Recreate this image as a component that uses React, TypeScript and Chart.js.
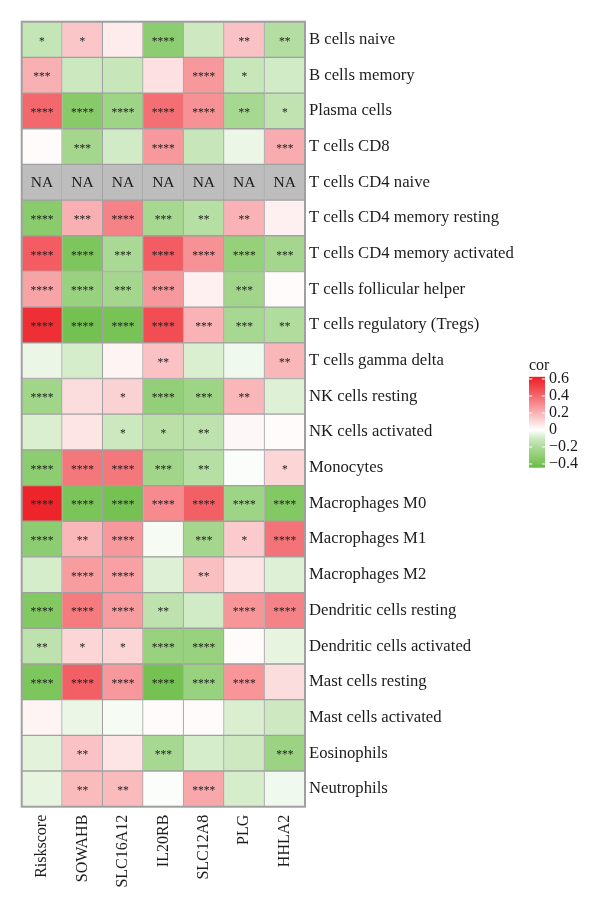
import { useEffect, useRef } from "react";
import { Chart, registerables } from "chart.js";

Chart.register(...registerables);

const genes = ["Riskscore", "SOWAHB", "SLC16A12", "IL20RB", "SLC12A8", "PLG", "HHLA2"];

const cellTypes = [
  "B cells naive",
  "B cells memory",
  "Plasma cells",
  "T cells CD8",
  "T cells CD4 naive",
  "T cells CD4 memory resting",
  "T cells CD4 memory activated",
  "T cells follicular helper",
  "T cells regulatory (Tregs)",
  "T cells gamma delta",
  "NK cells resting",
  "NK cells activated",
  "Monocytes",
  "Macrophages M0",
  "Macrophages M1",
  "Macrophages M2",
  "Dendritic cells resting",
  "Dendritic cells activated",
  "Mast cells resting",
  "Mast cells activated",
  "Eosinophils",
  "Neutrophils",
];

// one row per cell type, one entry per gene; null is NA
const cor: (number | null)[][] = [
  [-0.13, 0.15, 0.05, -0.31, -0.1, 0.16, -0.18],
  [0.21, -0.11, -0.12, 0.08, 0.27, -0.12, -0.09],
  [0.4, -0.33, -0.25, 0.38, 0.29, -0.22, -0.14],
  [0.01, -0.23, -0.09, 0.27, -0.12, -0.03, 0.22],
  [null, null, null, null, null, null, null],
  [-0.32, 0.21, 0.33, -0.22, -0.17, 0.2, 0.04],
  [0.43, -0.37, -0.21, 0.43, 0.29, -0.28, -0.23],
  [0.24, -0.27, -0.23, 0.27, 0.04, -0.24, 0.01],
  [0.55, -0.41, -0.39, 0.47, 0.2, -0.22, -0.19],
  [-0.03, -0.08, 0.03, 0.16, -0.07, -0.02, 0.19],
  [-0.24, 0.09, 0.12, -0.29, -0.25, 0.19, -0.06],
  [-0.07, 0.07, -0.11, -0.16, -0.15, 0.02, 0.01],
  [-0.31, 0.36, 0.36, -0.24, -0.17, -0.005, 0.11],
  [0.58, -0.38, -0.4, 0.31, 0.42, -0.25, -0.35],
  [-0.31, 0.19, 0.27, -0.01, -0.23, 0.14, 0.37],
  [-0.08, 0.26, 0.25, -0.06, 0.17, 0.07, -0.06],
  [-0.35, 0.35, 0.26, -0.15, -0.09, 0.28, 0.33],
  [-0.15, 0.11, 0.11, -0.27, -0.27, 0.01, -0.04],
  [-0.37, 0.42, 0.27, -0.4, -0.27, 0.28, 0.09],
  [0.03, -0.03, -0.01, 0.01, 0.01, -0.07, -0.1],
  [-0.05, 0.16, 0.07, -0.22, -0.08, -0.1, -0.26],
  [-0.04, 0.18, 0.18, -0.005, 0.23, -0.08, -0.02],
];

const stars = [
  ["*", "*", "", "****", "", "**", "**"],
  ["***", "", "", "", "****", "*", ""],
  ["****", "****", "****", "****", "****", "**", "*"],
  ["", "***", "", "****", "", "", "***"],
  ["NA", "NA", "NA", "NA", "NA", "NA", "NA"],
  ["****", "***", "****", "***", "**", "**", ""],
  ["****", "****", "***", "****", "****", "****", "***"],
  ["****", "****", "***", "****", "", "***", ""],
  ["****", "****", "****", "****", "***", "***", "**"],
  ["", "", "", "**", "", "", "**"],
  ["****", "", "*", "****", "***", "**", ""],
  ["", "", "*", "*", "**", "", ""],
  ["****", "****", "****", "***", "**", "", "*"],
  ["****", "****", "****", "****", "****", "****", "****"],
  ["****", "**", "****", "", "***", "*", "****"],
  ["", "****", "****", "", "**", "", ""],
  ["****", "****", "****", "**", "", "****", "****"],
  ["**", "*", "*", "****", "****", "", ""],
  ["****", "****", "****", "****", "****", "****", ""],
  ["", "", "", "", "", "", ""],
  ["", "**", "", "***", "", "", "***"],
  ["", "**", "**", "", "****", "", ""],
];

const legendTicks = [0.6, 0.4, 0.2, 0, -0.2, -0.4];
const legendMin = -0.444;
const legendMax = 0.627;

const serif = '"Liberation Serif", serif';
const gridColor = "#a0a0a0";
const naColor = "#bdbdbd";
const textColor = "#1c1c1c";

function corColor(value: number | null) {
  if (value === null) {
    return naColor;
  }
  const end = value > 0 ? [237, 28, 36] : [106, 189, 69];
  const t = value > 0 ? Math.min(1, value / 0.6) : Math.min(1, (-value / 0.444) ** 0.75);
  const [r, g, b] = end.map((c) => Math.round(255 + (c - 255) * t));
  return `rgb(${r}, ${g}, ${b})`;
}

// prints the stars and NA in the middle of each cell
const cellTextPlugin = {
  id: "cellText",
  afterDatasetsDraw(chart: Chart) {
    const { ctx, chartArea } = chart;
    ctx.save();
    ctx.strokeStyle = gridColor;
    ctx.lineWidth = 2;
    ctx.strokeRect(
      chartArea.left,
      chartArea.top,
      chartArea.right - chartArea.left,
      chartArea.bottom - chartArea.top
    );
    ctx.textAlign = "center";
    ctx.textBaseline = "middle";
    genes.forEach((_, col) => {
      chart.getDatasetMeta(col).data.forEach((bar, row) => {
        const label = stars[row][col];
        if (!label) {
          return;
        }
        const { x, y } = bar.getCenterPoint();
        if (label === "NA") {
          ctx.font = `15.5px ${serif}`;
          ctx.fillStyle = textColor;
          ctx.fillText(label, x, y + 0.5);
        } else {
          ctx.font = `11.5px ${serif}`;
          ctx.fillStyle = "#222222";
          ctx.fillText(label, x, y + 2);
        }
      });
    });
    ctx.restore();
  },
};

function Heatmap() {
  const canvasRef = useRef<HTMLCanvasElement | null>(null);

  useEffect(() => {
    const canvas = canvasRef.current;
    if (!canvas) {
      return;
    }

    const chart = new Chart(canvas, {
      type: "bar",
      data: {
        labels: cellTypes,
        datasets: genes.map((gene, col) => ({
          label: gene,
          data: cellTypes.map(() => 1),
          backgroundColor: cor.map((row) => corColor(row[col])),
          borderColor: gridColor,
          borderWidth: 1,
          barPercentage: 1,
          categoryPercentage: 1,
        })),
      },
      options: {
        indexAxis: "y",
        responsive: false,
        animation: false,
        layout: {
          padding: { left: 21.7, top: 21.7, right: 0, bottom: 0 },
        },
        plugins: {
          legend: { display: false },
          tooltip: { enabled: false },
        },
        scales: {
          x: {
            type: "linear",
            stacked: true,
            min: 0,
            max: genes.length,
            grid: { display: false, drawTicks: false },
            border: { display: false },
            afterBuildTicks: (scale) => {
              scale.ticks = genes.map((_, i) => ({ value: i + 0.5 }));
            },
            afterFit: (scale) => {
              scale.height = 101.3;
            },
            ticks: {
              autoSkip: false,
              minRotation: 90,
              maxRotation: 90,
              padding: 8,
              color: textColor,
              font: { family: serif, size: 16 },
              callback: (value) => genes[Number(value) - 0.5],
            },
          },
          y: {
            type: "category",
            position: "right",
            stacked: true,
            grid: { display: false, drawTicks: false },
            border: { display: false },
            afterFit: (scale) => {
              scale.width = 295;
            },
            ticks: {
              autoSkip: false,
              padding: 4,
              color: textColor,
              font: { family: serif, size: 16.7 },
            },
          },
        },
      },
      plugins: [cellTextPlugin],
    });

    return () => {
      chart.destroy();
    };
  }, []);

  return (
    <canvas
      ref={canvasRef}
      width={600}
      height={908}
      style={{ position: "absolute", left: 0, top: 0 }}
    />
  );
}

// short white marks inside the colour bar at each legend tick
const barTicksPlugin = {
  id: "barTicks",
  afterDatasetsDraw(chart: Chart) {
    const { ctx, chartArea, scales } = chart;
    const markWidth = (chartArea.right - chartArea.left) / 5;
    ctx.save();
    ctx.fillStyle = "#ffffff";
    legendTicks.forEach((tick) => {
      const y = scales.y.getPixelForValue(tick);
      ctx.fillRect(chartArea.left, y - 0.5, markWidth, 1);
      ctx.fillRect(chartArea.right - markWidth, y - 0.5, markWidth, 1);
    });
    ctx.restore();
  },
};

function ColorBar() {
  const canvasRef = useRef<HTMLCanvasElement | null>(null);

  useEffect(() => {
    const canvas = canvasRef.current;
    if (!canvas) {
      return;
    }

    const chart = new Chart(canvas, {
      type: "bar",
      data: {
        labels: ["cor"],
        datasets: [
          {
            data: [[legendMin, legendMax]],
            barPercentage: 1,
            categoryPercentage: 1,
            backgroundColor: (context) => {
              const { chartArea, ctx } = context.chart;
              if (!chartArea) {
                return "#ffffff";
              }
              const gradient = ctx.createLinearGradient(0, chartArea.bottom, 0, chartArea.top);
              const range = legendMax - legendMin;
              [legendMin, -0.2, -0.1, 0, 0.2, 0.4, legendMax].forEach((value) => {
                gradient.addColorStop((value - legendMin) / range, corColor(value));
              });
              return gradient;
            },
          },
        ],
      },
      options: {
        responsive: false,
        animation: false,
        layout: {
          padding: { left: 0, right: 0, top: 0, bottom: 3.3 },
        },
        plugins: {
          legend: { display: false },
          tooltip: { enabled: false },
          title: {
            display: true,
            text: "cor",
            align: "start",
            color: textColor,
            padding: { top: 0, bottom: 1.5 },
            font: { family: serif, size: 16, weight: "normal" },
          },
        },
        scales: {
          x: { display: false },
          y: {
            position: "right",
            min: legendMin,
            max: legendMax,
            grid: { display: false, drawTicks: false },
            border: { display: false },
            afterBuildTicks: (scale) => {
              scale.ticks = legendTicks.map((value) => ({ value }));
            },
            afterFit: (scale) => {
              scale.width = 55;
              // the end labels sit inside the bar's range, no room needed for them
              scale.paddingTop = 0;
              scale.paddingBottom = 0;
            },
            ticks: {
              autoSkip: false,
              padding: 4,
              color: textColor,
              font: { family: serif, size: 16 },
              callback: (value) => String(value).replace("-", "\u2212"),
            },
          },
        },
      },
      plugins: [barTicksPlugin],
    });

    return () => {
      chart.destroy();
    };
  }, []);

  return (
    <canvas
      ref={canvasRef}
      width={71}
      height={115}
      style={{ position: "absolute", left: 529, top: 356 }}
    />
  );
}

export default function App() {
  return (
    <div style={{ position: "absolute", left: 0, top: 0, width: 600, height: 908 }}>
      <Heatmap />
      <ColorBar />
    </div>
  );
}
